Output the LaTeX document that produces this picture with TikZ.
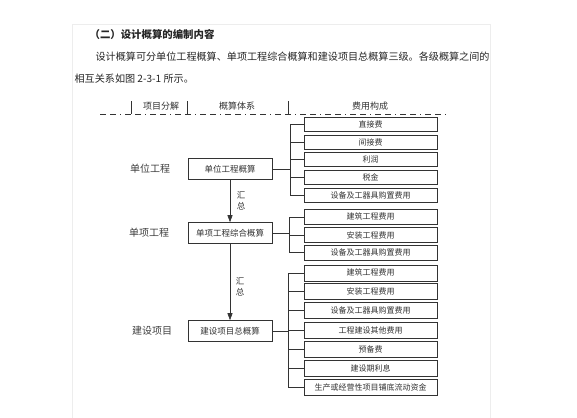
\documentclass[tikz,border=0pt]{standalone}
\usepackage{fontspec}
\setmainfont{Noto Sans CJK SC}
\usetikzlibrary{positioning}
\usetikzlibrary{calc}
\usetikzlibrary{arrows.meta}

\tikzset{
  costbox/.style={draw, minimum width=133pt, minimum height=15pt, inner sep=0pt, font=\fontsize{8}{8}\selectfont},
  estbox/.style={draw, minimum width=84pt, minimum height=21pt, inner sep=0pt, font=\fontsize{8.5}{8.5}\selectfont},
  rowlabel/.style={font=\fontsize{10}{10}\selectfont, text=black!75},
  headlabel/.style={font=\fontsize{9}{9}\selectfont},
  sumlabel/.style={font=\fontsize{8.5}{8.5}\selectfont},
  para/.style={anchor=west, font=\fontsize{10.1}{10.1}\selectfont, text=black!85},
}

\begin{document}
\begin{tikzpicture}[x=1pt, y=-1pt, line width=0.6pt, color=black!80]
    \useasboundingbox (0,0) rectangle (577,417);
    \fill[white] (0,0) rectangle (577,417);
    % page
    \draw[black!7, line width=1pt] (72,432) -- (72,25) -- (490,25) -- (490,432);

    % text above the figure
    \node[para, font=\fontsize{10.4}{10.4}\selectfont\bfseries] (title) at (86,35) {（二）设计概算的编制内容};
    \node[para] (line1) at (92,57) {设计概算可分单位工程概算、单项工程综合概算和建设项目总概算三级。各级概算之间的};
    \node[para] (line2) at (71,79) {相互关系如图 2-3-1 所示。};

    % header
    \coordinate (h0) at (100,114);
    \coordinate (h4) at (446,114);
    \coordinate (t1) at (131,101);
    \coordinate (t2) at (187,101);
    \coordinate (t3) at (288,101);
    \draw[dash pattern=on 6pt off 4pt on 6pt off 4pt on 1pt off 4pt] (h0) -- (h4);
    \draw (t1) -- (t1 |- h0);
    \draw (t2) -- (t2 |- h0);
    \draw (t3) -- (t3 |- h0);
    \node[headlabel] (hd1) at (161,106) {项目分解};
    \node[headlabel] (hd2) at (237,106) {概算体系};
    \node[headlabel] (hd3) at (370,106) {费用构成};

    % estimate boxes
    \node[estbox] (unit) at (230,169) {单位工程概算};
    \node[estbox] (single) at (230,233) {单项工程综合概算};
    \node[estbox] (project) at (230,331) {建设项目总概算};

    \node[rowlabel] (lunit) at (150,169) {单位工程};
    \node[rowlabel] (lsingle) at (149,233) {单项工程};
    \node[rowlabel] (lproject) at (152,331) {建设项目};

    \draw[-{Triangle[width=5pt,length=7pt]}] (unit) -- (single);
    \draw[-{Triangle[width=5pt,length=7pt]}] (single) -- (project);
    \node[sumlabel] (s1a) at (241,195) {汇};
    \node[sumlabel] (s1b) at (241,206) {总};
    \node[sumlabel] (s2a) at (240,281) {汇};
    \node[sumlabel] (s2b) at (240,292) {总};

    % first group
    \node[costbox, minimum height=14pt] (c11) at (370.5,124.3) {直接费};
    \node[costbox, minimum height=14pt] (c12) at (370.5,142.5) {间接费};
    \node[costbox, minimum height=14pt] (c13) at (370.5,159.7) {利润};
    \node[costbox, minimum height=14pt] (c14) at (370.5,177.2) {税金};
    \node[costbox, minimum height=14pt] (c15) at (370.5,195) {设备及工器具购置费用};
    \coordinate (b1) at (290,169);
    \draw (unit) -- (b1);
    \draw (c11.west) -- (c11.west -| b1) -- (c15.west -| b1) -- (c15.west);
    \foreach \n in {c12,c13,c14}
        \draw (\n.west -| b1) -- (\n.west);

    % second group
    \node[costbox] (c21) at (370.5,216.8) {建筑工程费用};
    \node[costbox] (c22) at (370.5,235) {安装工程费用};
    \node[costbox] (c23) at (370.5,252.7) {设备及工器具购置费用};
    \coordinate (b2) at (289.3,233);
    \draw (single) -- (b2);
    \draw (c21.west) -- (c21.west -| b2) -- (c23.west -| b2) -- (c23.west);
    \draw (c22.west -| b2) -- (c22.west);

    % third group
    \node[costbox, minimum height=16pt] (c31) at (370.5,272.8) {建筑工程费用};
    \node[costbox, minimum height=16pt] (c32) at (370.5,291.3) {安装工程费用};
    \node[costbox, minimum height=16pt] (c33) at (370.5,310.5) {设备及工器具购置费用};
    \node[costbox, minimum height=16pt] (c34) at (370.5,330) {工程建设其他费用};
    \node[costbox, minimum height=16pt] (c35) at (370.5,349) {预备费};
    \node[costbox, minimum height=16pt] (c36) at (370.5,368) {建设期利息};
    \node[costbox, minimum height=16pt] (c37) at (370.5,387) {生产或经营性项目铺底流动资金};
    \coordinate (b3) at (288.7,331);
    \draw (project) -- (b3);
    \draw (c31.west) -- (c31.west -| b3) -- (c37.west -| b3) -- (c37.west);
    \foreach \n in {c32,c33,c34,c35,c36}
        \draw (\n.west -| b3) -- (\n.west);
\end{tikzpicture}
\end{document}
